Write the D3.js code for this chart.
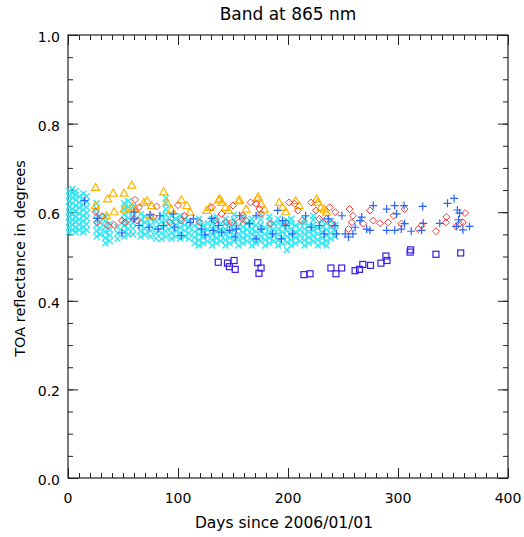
<!DOCTYPE html>
<html>
<head>
<meta charset="utf-8">
<script src="https://cdn.jsdelivr.net/npm/d3@7"></script>
<style>
  body { margin: 0; background: #fff; }
  text { font-family: "DejaVu Sans", sans-serif; fill: #000; }
</style>
</head>
<body>
<div id="plot"></div>
<script>
// Tick labels
const xTicks = [0, 100, 200, 300, 400];
const yTicks = [0.0, 0.2, 0.4, 0.6, 0.8, 1.0];

// Cyan "x" series, one column of values per day
const cyanDays = [1, 4, 7, 10, 14, 17, 26, 29, 34, 38, 45, 51, 55, 59, 66, 70, 75, 80, 85, 89,
  94, 98, 102, 106, 110, 115, 119, 123, 127, 131, 135, 139, 143, 147, 151, 155, 159, 163, 167,
  171, 175, 179, 183, 187, 191, 195, 199, 203, 207, 211, 215, 219, 223, 227, 231, 235, 239, 243];
const cyanValues = [
  [0.555, 0.565, 0.577, 0.59, 0.60, 0.612, 0.625, 0.637, 0.648],
  [0.56, 0.572, 0.583, 0.595, 0.607, 0.62, 0.632, 0.643, 0.653],
  [0.555, 0.566, 0.578, 0.59, 0.603, 0.615, 0.628, 0.64, 0.648],
  [0.56, 0.572, 0.584, 0.597, 0.61, 0.622, 0.635],
  [0.555, 0.567, 0.58, 0.592, 0.605, 0.617, 0.63, 0.642],
  [0.56, 0.573, 0.586, 0.598, 0.611, 0.624, 0.636],
  [0.545, 0.558, 0.571, 0.583, 0.596, 0.608, 0.62],
  [0.55, 0.563, 0.577, 0.59],
  [0.53, 0.542, 0.555, 0.567, 0.58, 0.59],
  [0.535, 0.548, 0.561, 0.574],
  [0.54, 0.553, 0.567],
  [0.545, 0.557, 0.57, 0.582, 0.595, 0.607, 0.62],
  [0.55, 0.562, 0.575, 0.587, 0.60, 0.612, 0.625],
  [0.55, 0.563, 0.576, 0.589, 0.602, 0.613],
  [0.545, 0.557, 0.57, 0.583, 0.596],
  [0.55, 0.563, 0.577, 0.59],
  [0.545, 0.558, 0.571, 0.585],
  [0.54, 0.553, 0.566, 0.58],
  [0.54, 0.553, 0.566, 0.579, 0.592],
  [0.545, 0.557, 0.569, 0.581, 0.594, 0.607, 0.62, 0.632],
  [0.54, 0.553, 0.566, 0.579, 0.592],
  [0.545, 0.558, 0.571, 0.585],
  [0.54, 0.553, 0.566, 0.579, 0.592],
  [0.545, 0.558, 0.571, 0.585],
  [0.54, 0.553, 0.566, 0.58],
  [0.53, 0.543, 0.556, 0.57],
  [0.525, 0.537, 0.55, 0.562, 0.575, 0.585],
  [0.53, 0.543, 0.556, 0.57],
  [0.535, 0.548, 0.561, 0.575],
  [0.525, 0.537, 0.55, 0.562, 0.575, 0.585],
  [0.53, 0.542, 0.555, 0.567, 0.58, 0.59],
  [0.535, 0.548, 0.561, 0.575],
  [0.525, 0.537, 0.55, 0.562, 0.575, 0.585],
  [0.53, 0.543, 0.556, 0.57],
  [0.535, 0.547, 0.559, 0.571, 0.583, 0.595],
  [0.525, 0.538, 0.551, 0.565],
  [0.53, 0.542, 0.555, 0.567, 0.58, 0.59],
  [0.535, 0.548, 0.561, 0.575],
  [0.525, 0.537, 0.55, 0.562, 0.575, 0.585],
  [0.53, 0.543, 0.556, 0.57],
  [0.535, 0.547, 0.559, 0.571, 0.583, 0.595],
  [0.525, 0.538, 0.551, 0.565],
  [0.53, 0.542, 0.555, 0.567, 0.58, 0.59],
  [0.535, 0.548, 0.561, 0.575],
  [0.525, 0.537, 0.55, 0.562, 0.575, 0.585],
  [0.53, 0.543, 0.556, 0.57],
  [0.515, 0.532, 0.545, 0.558, 0.571, 0.582],
  [0.525, 0.537, 0.55, 0.562, 0.575, 0.585],
  [0.53, 0.543, 0.556, 0.57],
  [0.535, 0.548, 0.561, 0.575],
  [0.525, 0.537, 0.55, 0.562, 0.575, 0.585],
  [0.53, 0.543, 0.556, 0.57],
  [0.535, 0.547, 0.559, 0.571, 0.583, 0.592],
  [0.525, 0.538, 0.551, 0.565],
  [0.53, 0.542, 0.555, 0.567, 0.58],
  [0.525, 0.535, 0.548, 0.561, 0.575],
  [0.54, 0.553, 0.566, 0.58],
  [0.545, 0.558, 0.571]
];

// Orange triangles
const triDays = [25, 25, 35, 36, 41, 42, 51, 51, 58, 58.5, 61.5, 69, 72, 75, 76, 87, 90, 94, 103,
  108, 111, 126, 129, 137, 138, 140, 143, 146, 155, 156, 162, 172, 173, 175.5, 178.5, 192, 195,
  198, 207, 210, 226, 227, 230, 233, 235];
const triValues = [0.656, 0.615, 0.592, 0.630, 0.643, 0.601, 0.643, 0.607, 0.661, 0.611, 0.607,
  0.622, 0.626, 0.592, 0.615, 0.646, 0.622, 0.607, 0.628, 0.615, 0.600, 0.604, 0.611, 0.628,
  0.630, 0.622, 0.611, 0.604, 0.626, 0.628, 0.607, 0.631, 0.634, 0.619, 0.607, 0.622, 0.611,
  0.601, 0.626, 0.615, 0.630, 0.622, 0.611, 0.607, 0.600];

// Red diamonds
const diaDays = [25, 26.6, 31, 36, 42, 49, 52, 60, 61, 63, 64.5, 77.6, 80.6, 92.7, 100, 103, 106,
  120, 130.6, 133.6, 139.7, 144, 149, 150, 155, 159, 162, 166, 171, 174, 175.5, 184.5, 198, 201,
  206, 209, 213, 221, 225.5, 228.5, 235, 238, 240, 243, 255, 256, 258, 259, 268.5, 274.5, 277.5,
  283.6, 291, 296, 303, 306, 318.5, 321.5, 334.5, 343.6, 344, 353, 356, 359, 361];
const diaValues = [0.601, 0.577, 0.591, 0.570, 0.571, 0.581, 0.577, 0.585, 0.628, 0.581, 0.611,
  0.589, 0.613, 0.577, 0.616, 0.581, 0.592, 0.577, 0.611, 0.581, 0.596, 0.577, 0.577, 0.615,
  0.577, 0.592, 0.581, 0.622, 0.619, 0.607, 0.596, 0.574, 0.577, 0.622, 0.619, 0.604, 0.581,
  0.622, 0.604, 0.585, 0.585, 0.611, 0.574, 0.600, 0.562, 0.607, 0.577, 0.592, 0.574, 0.604,
  0.581, 0.575, 0.577, 0.592, 0.574, 0.607, 0.562, 0.570, 0.557, 0.577, 0.589, 0.568, 0.574,
  0.577, 0.598];

// Blue plus signs
const plusDays = [15, 26.6, 49, 60, 60, 64.5, 73.6, 74.5, 82, 83.6, 86.7, 95.7, 97, 103, 111, 114,
  121.5, 124.5, 130.6, 132, 136.6, 139.7, 147, 152, 153, 156, 165, 171, 171, 175.5, 186, 190.6,
  194, 195, 198, 204, 216, 221, 228.5, 233, 236.6, 242.7, 244, 249, 252, 255, 259, 261, 265.5,
  267, 271.5, 274.5, 277.5, 289.7, 289.7, 297, 297, 298.8, 303, 305.5, 306, 312, 321.5, 322.5,
  323, 338, 345, 351, 353, 354, 355, 356, 359, 365];
const plusValues = [0.626, 0.586, 0.553, 0.585, 0.600, 0.570, 0.566, 0.594, 0.562, 0.592, 0.570,
  0.596, 0.566, 0.547, 0.577, 0.585, 0.562, 0.549, 0.586, 0.559, 0.570, 0.555, 0.559, 0.544,
  0.562, 0.592, 0.574, 0.592, 0.540, 0.562, 0.551, 0.604, 0.540, 0.581, 0.570, 0.551, 0.592,
  0.566, 0.570, 0.551, 0.585, 0.570, 0.551, 0.592, 0.551, 0.544, 0.551, 0.566, 0.581, 0.589,
  0.562, 0.559, 0.615, 0.607, 0.559, 0.615, 0.559, 0.596, 0.562, 0.615, 0.574, 0.557, 0.559,
  0.613, 0.575, 0.575, 0.620, 0.631, 0.568, 0.605, 0.583, 0.598, 0.560, 0.568];

// Purple squares
const sqDays = [136.6, 145, 146.7, 151, 152, 172.5, 173.6, 175.5, 214.5, 220, 239, 243.6, 248.8,
  261, 265, 268, 275, 284.5, 289, 290, 311, 311.5, 334.5, 357];
const sqValues = [0.487, 0.485, 0.477, 0.491, 0.471, 0.486, 0.462, 0.474, 0.459, 0.461, 0.474,
  0.461, 0.474, 0.468, 0.471, 0.482, 0.480, 0.485, 0.501, 0.491, 0.510, 0.515, 0.505, 0.508];

// Frame in page pixels
const margin = { top: 35, right: 16, bottom: 59, left: 68 };
const W = 524, H = 537;
const width = W - margin.left - margin.right;
const height = H - margin.top - margin.bottom;

const svg = d3.select("#plot")
  .append("svg")
  .attr("width", W)
  .attr("height", H);

const g = svg.append("g")
  .attr("transform", `translate(${margin.left}, ${margin.top})`);

const x = d3.scaleLinear().domain([0, 400]).range([0, width]);
const y = d3.scaleLinear().domain([0, 1]).range([height, 0]);

// Minor ticks (all four sides, pointing inward)
const xMinor = d3.range(0, 401, 10);
const yMinor = d3.range(0, 1.0001, 0.05);

function tickAxis(axisFn, scale, values, size, transform) {
  g.append("g")
    .attr("transform", transform)
    .call(axisFn(scale).tickValues(values).tickSize(size).tickFormat(""))
    .call(a => a.select(".domain").remove())
    .selectAll("line").attr("stroke", "#222").attr("stroke-width", 1);
}
tickAxis(d3.axisBottom, x, xMinor, -5, `translate(0, ${height})`);
tickAxis(d3.axisTop, x, xMinor, -5, "translate(0, 0)");
tickAxis(d3.axisLeft, y, yMinor, -5, "translate(0, 0)");
tickAxis(d3.axisRight, y, yMinor, -5, `translate(${width}, 0)`);
tickAxis(d3.axisBottom, x, xTicks, -10, `translate(0, ${height})`);
tickAxis(d3.axisTop, x, xTicks, -10, "translate(0, 0)");
tickAxis(d3.axisLeft, y, yTicks, -10, "translate(0, 0)");
tickAxis(d3.axisRight, y, yTicks, -10, `translate(${width}, 0)`);

// Tick labels
g.selectAll(".xlab")
  .data(xTicks)
  .enter()
  .append("text")
  .attr("x", d => x(d))
  .attr("y", height + 25)
  .attr("text-anchor", "middle")
  .style("font-size", "14px")
  .text(d => d);

g.selectAll(".ylab")
  .data(yTicks)
  .enter()
  .append("text")
  .attr("x", -8)
  .attr("y", d => y(d) + 7)
  .attr("text-anchor", "end")
  .style("font-size", "14px")
  .text(d => d.toFixed(1));

// Frame
g.append("rect")
  .attr("width", width)
  .attr("height", height)
  .attr("fill", "none")
  .attr("stroke", "#222")
  .attr("stroke-width", 1.2);

// Titles
svg.append("text")
  .attr("x", margin.left + width / 2)
  .attr("y", 20)
  .attr("text-anchor", "middle")
  .style("font-size", "17px")
  .text("Band at 865 nm");

svg.append("text")
  .attr("x", margin.left + width / 2 - 4)
  .attr("y", 528)
  .attr("text-anchor", "middle")
  .style("font-size", "15.5px")
  .text("Days since 2006/01/01");

svg.append("text")
  .attr("transform", `translate(25, ${margin.top + height / 2 + 2}) rotate(-90)`)
  .attr("text-anchor", "middle")
  .style("font-size", "14.5px")
  .text("TOA reflectance in degrees");

// Marker layers
const plot = g.append("g");

const cyanPts = [];
cyanDays.forEach((d, i) => cyanValues[i].forEach(v => cyanPts.push([d, v])));

plot.selectAll(".cx")
  .data(cyanPts)
  .enter()
  .append("path")
  .attr("transform", d => `translate(${x(d[0])}, ${y(d[1])})`)
  .attr("d", "M-3,-3L3,3M-3,3L3,-3")
  .attr("stroke", "#2ae6f4")
  .attr("stroke-width", 1.5)
  .attr("opacity", 0.9);

const pairs = (xs, ys) => xs.map((d, i) => [d, ys[i]]);

plot.selectAll(".tri")
  .data(pairs(triDays, triValues))
  .enter()
  .append("path")
  .attr("transform", d => `translate(${x(d[0])}, ${y(d[1])})`)
  .attr("d", "M0,-4L4,3L-4,3Z")
  .attr("fill", "none")
  .attr("stroke", "#ffb400")
  .attr("stroke-width", 1.2);

plot.selectAll(".dia")
  .data(pairs(diaDays, diaValues))
  .enter()
  .append("path")
  .attr("transform", d => `translate(${x(d[0])}, ${y(d[1])})`)
  .attr("d", "M0,-3.5L3.5,0L0,3.5L-3.5,0Z")
  .attr("fill", "none")
  .attr("stroke", "#ff3838")
  .attr("stroke-width", 1);

plot.selectAll(".plus")
  .data(pairs(plusDays, plusValues))
  .enter()
  .append("path")
  .attr("transform", d => `translate(${x(d[0])}, ${y(d[1])})`)
  .attr("d", "M-4,0L4,0M0,-4L0,4")
  .attr("stroke", "#2a64ff")
  .attr("stroke-width", 1.2);

plot.selectAll(".sq")
  .data(pairs(sqDays, sqValues))
  .enter()
  .append("rect")
  .attr("x", d => x(d[0]) - 3)
  .attr("y", d => y(d[1]) - 3)
  .attr("width", 6)
  .attr("height", 6)
  .attr("fill", "none")
  .attr("stroke", "#3a1ee6")
  .attr("stroke-width", 1.2);
</script>
</body>
</html>
